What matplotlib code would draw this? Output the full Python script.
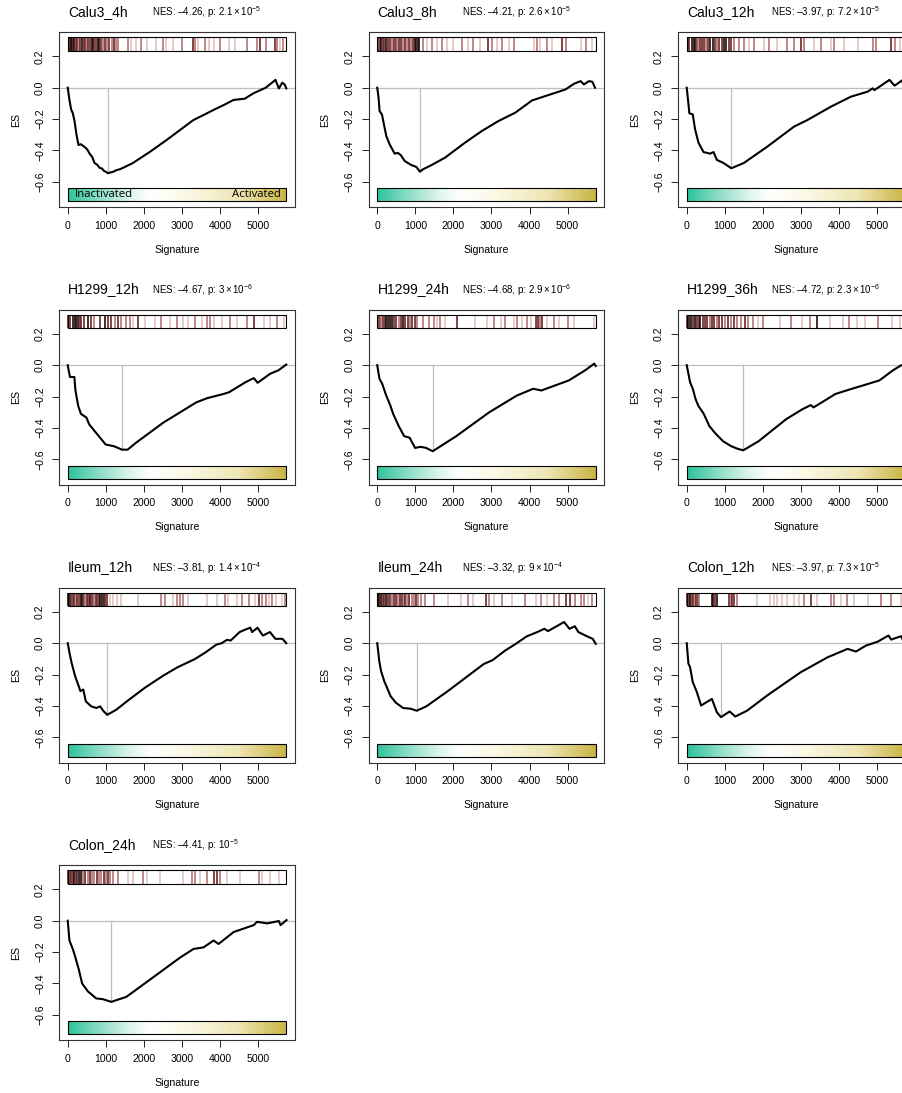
import numpy as np
import matplotlib
matplotlib.use("Agg")
import matplotlib.pyplot as plt
from matplotlib.colors import LinearSegmentedColormap
from matplotlib.patches import Rectangle

plt.rcParams['font.family'] = ['Liberation Sans', 'DejaVu Sans']
plt.rcParams['mathtext.fontset'] = 'custom'
plt.rcParams['mathtext.rm'] = 'Liberation Sans'
plt.rcParams['mathtext.it'] = 'Liberation Sans:italic'

N_GENES = 5740

names = ['Calu3_4h', 'Calu3_8h', 'Calu3_12h',
         'H1299_12h', 'H1299_24h', 'H1299_36h',
         'Ileum_12h', 'Ileum_24h', 'Colon_12h', 'Colon_24h']
nes = [-4.26, -4.21, -3.97, -4.67, -4.68, -4.72, -3.81, -3.32, -3.97, -4.41]
pvals = [2.1e-5, 2.6e-5, 7.2e-5, 3e-6, 2.9e-6, 2.3e-6, 1.4e-4, 9e-4, 7.3e-5, 1e-5]

# ---- running enrichment score curves (rank, ES) ----
x_calu3_4h = [0, 40, 90, 130, 177, 230, 283, 340, 400, 485, 530, 573, 640, 705, 770, 837, 900, 950, 1000, 1056, 1120, 1200, 1280, 1365, 1500, 1710, 2150, 2598, 3300, 3600, 3826, 4100, 4356, 4650, 4882, 5200, 5458, 5546, 5634, 5700, 5740]
y_calu3_4h = [0, -0.07, -0.14, -0.16, -0.21, -0.3, -0.365, -0.36, -0.37, -0.386, -0.4, -0.42, -0.44, -0.48, -0.49, -0.51, -0.515, -0.53, -0.535, -0.545, -0.54, -0.535, -0.525, -0.52, -0.505, -0.48, -0.41, -0.333, -0.206, -0.17, -0.142, -0.11, -0.078, -0.07, -0.035, 0.0, 0.05, -0.005, 0.032, 0.02, -0.004]

x_calu3_8h = [0, 35, 62, 123, 176, 238, 326, 458, 540, 616, 722, 810, 898, 1030, 1118, 1200, 1426, 1778, 2306, 2746, 3186, 3626, 4066, 4418, 4770, 4946, 5166, 5342, 5430, 5562, 5650, 5720]
y_calu3_8h = [0, -0.064, -0.149, -0.17, -0.234, -0.308, -0.361, -0.42, -0.415, -0.429, -0.467, -0.48, -0.493, -0.505, -0.535, -0.52, -0.493, -0.446, -0.35, -0.276, -0.212, -0.159, -0.081, -0.053, -0.025, -0.011, 0.025, 0.042, 0.021, 0.042, 0.038, 0.0]

x_calu3_12h = [0, 70, 158, 220, 308, 440, 616, 704, 792, 968, 1171, 1497, 2113, 2817, 3169, 3785, 4313, 4753, 4885, 4930, 5326, 5458, 5660, 5720]
y_calu3_12h = [0, -0.163, -0.17, -0.266, -0.35, -0.41, -0.42, -0.41, -0.46, -0.48, -0.513, -0.48, -0.376, -0.248, -0.206, -0.121, -0.057, -0.025, -0.004, -0.015, 0.05, 0.013, 0.047, -0.01]

x_h1299_12h = [0, 58, 174, 202, 274, 346, 490, 562, 707, 851, 995, 1211, 1428, 1572, 1788, 2509, 3374, 3662, 4095, 4239, 4671, 4887, 4988, 5320, 5536, 5740]
y_h1299_12h = [0, -0.075, -0.075, -0.16, -0.258, -0.31, -0.333, -0.376, -0.42, -0.462, -0.505, -0.516, -0.538, -0.538, -0.495, -0.366, -0.237, -0.21, -0.183, -0.172, -0.108, -0.082, -0.112, -0.054, -0.032, 0.004]

x_h1299_24h = [0, 58, 130, 231, 346, 418, 562, 707, 851, 995, 1139, 1284, 1457, 2076, 2941, 3662, 4095, 4311, 4671, 5032, 5464, 5700, 5740]
y_h1299_24h = [0, -0.086, -0.118, -0.19, -0.258, -0.31, -0.387, -0.452, -0.462, -0.527, -0.52, -0.527, -0.548, -0.452, -0.30, -0.194, -0.15, -0.161, -0.129, -0.097, -0.032, 0.01, -0.005]

x_h1299_36h = [0, 87, 159, 231, 303, 447, 592, 736, 952, 1168, 1341, 1485, 1889, 2610, 3042, 3258, 3330, 3907, 4340, 4628, 5060, 5420, 5636, 5740]
y_h1299_36h = [0, -0.108, -0.15, -0.215, -0.258, -0.31, -0.387, -0.43, -0.484, -0.516, -0.533, -0.542, -0.484, -0.344, -0.28, -0.254, -0.269, -0.183, -0.15, -0.129, -0.097, -0.032, 0.0, -0.006]

x_ileum_12h = [0, 52, 99, 193, 287, 333, 409, 474, 615, 756, 850, 944, 1038, 1273, 1555, 2024, 2494, 2869, 3339, 3621, 3903, 4044, 4185, 4279, 4514, 4655, 4796, 4843, 4984, 5124, 5312, 5453, 5641, 5740]
y_ileum_12h = [0, -0.069, -0.123, -0.209, -0.273, -0.305, -0.295, -0.37, -0.402, -0.413, -0.402, -0.434, -0.456, -0.424, -0.37, -0.284, -0.209, -0.155, -0.101, -0.058, -0.009, 0.0, 0.022, 0.017, 0.071, 0.086, 0.099, 0.071, 0.099, 0.049, 0.071, 0.028, 0.028, 0.0]

x_ileum_24h = [0, 52, 99, 183, 258, 352, 493, 681, 869, 1038, 1291, 1855, 2325, 2794, 3029, 3358, 3640, 3922, 4203, 4391, 4485, 4908, 5049, 5190, 5284, 5519, 5659, 5740]
y_ileum_24h = [0, -0.112, -0.176, -0.241, -0.284, -0.338, -0.38, -0.413, -0.417, -0.43, -0.402, -0.305, -0.219, -0.133, -0.108, -0.047, -0.004, 0.043, 0.071, 0.092, 0.077, 0.135, 0.092, 0.108, 0.071, 0.043, 0.028, -0.004]

x_colon_12h = [0, 44, 88, 158, 264, 308, 378, 660, 792, 898, 1127, 1276, 1584, 2113, 2993, 3697, 4225, 4445, 4709, 5017, 5299, 5370, 5634, 5720]
y_colon_12h = [0, -0.13, -0.153, -0.248, -0.31, -0.344, -0.397, -0.355, -0.44, -0.471, -0.435, -0.467, -0.43, -0.333, -0.185, -0.09, -0.036, -0.053, -0.015, 0.01, 0.049, 0.023, 0.045, -0.004]

x_colon_24h = [0, 44, 132, 202, 290, 378, 528, 748, 924, 1144, 1540, 2157, 2950, 3302, 3566, 3830, 3962, 4358, 4886, 4974, 5238, 5546, 5590, 5748]
y_colon_24h = [0, -0.126, -0.18, -0.235, -0.31, -0.40, -0.45, -0.495, -0.50, -0.517, -0.485, -0.376, -0.235, -0.18, -0.17, -0.126, -0.148, -0.072, -0.028, -0.007, -0.017, -0.002, -0.028, 0.004]

# ---- gene-set hit positions and shade level (0 light .. 3 black) ----
hits_calu3_4h = [20, 50, 80, 110, 140, 170, 210, 250, 290, 330, 380, 420, 460, 500, 540, 590, 640, 670, 700, 750, 800, 830, 870, 920, 970, 1030, 1090, 1150, 1210, 1260,
                 1320, 1580, 1670, 1800, 1930, 2070, 2330, 2500, 2590, 2770, 2990, 3290, 3330, 3430, 3610, 3700, 3830, 4010, 4230, 4400, 4700, 4975, 5060, 5220, 5450, 5500, 5570, 5660]
shade_calu3_4h = [2, 2, 3, 3, 2, 3, 2, 2, 1, 2, 3, 2, 2, 1, 2, 2, 3, 3, 2, 2, 3, 3, 2, 1, 2, 1, 2, 1, 2, 1,
                  1, 1, 0, 0, 1, 0, 0, 1, 0, 0, 1, 2, 1, 0, 1, 0, 0, 1, 0, 0, 1, 1, 2, 1, 2, 1, 0, 1]

hits_calu3_8h = [20, 60, 100, 140, 180, 230, 280, 330, 380, 430, 480, 530, 580, 630, 680, 730, 780, 830, 880, 930, 985, 1030, 1070, 1110,
                 1205, 1294, 1426, 1558, 1690, 1822, 1998, 2218, 2394, 2526, 2702, 2922, 3010, 3142, 3274, 3450, 3582, 4110, 4198, 4286, 4462, 4594, 4858, 4946, 5342, 5474, 5650]
shade_calu3_8h = [2, 2, 3, 2, 2, 3, 2, 2, 1, 2, 2, 1, 2, 2, 1, 2, 1, 2, 1, 2, 3, 3, 3, 3,
                  1, 0, 1, 0, 1, 0, 0, 1, 0, 1, 0, 2, 1, 0, 1, 0, 1, 0, 1, 0, 1, 0, 2, 1, 0, 1, 0]

hits_calu3_12h = [20, 70, 130, 180, 220, 260, 300, 350, 400, 450, 500, 560, 620, 680, 740, 800, 860, 920, 980, 1040, 1100, 1160, 1230,
                  1360, 1500, 1630, 1760, 2020, 2160, 2380, 2640, 2820, 2990, 3080, 3340, 3520, 3780, 3870, 4130, 4490, 4880, 4970, 5370, 5460, 5590, 5680]
shade_calu3_12h = [2, 2, 3, 3, 3, 2, 1, 2, 2, 2, 1, 2, 3, 3, 2, 1, 2, 2, 3, 3, 2, 2, 1,
                   1, 1, 0, 1, 0, 1, 0, 1, 1, 2, 1, 0, 1, 0, 1, 0, 0, 1, 1, 2, 1, 0, 1]

hits_h1299_12h = [10, 60, 130, 180, 230, 280, 310, 350, 440, 530, 615, 700, 840, 970, 1060, 1140, 1230, 1320, 1410, 1540, 1630, 1710, 1850,
                  2020, 2290, 2460, 2680, 2860, 3030, 3170, 3340, 3520, 3650, 3740, 3830, 4050, 4270, 4450, 4710, 4880, 5150, 5320, 5500, 5670]
shade_h1299_12h = [2, 2, 3, 3, 3, 3, 2, 2, 2, 3, 2, 1, 2, 3, 2, 2, 1, 2, 1, 1, 1, 0, 2,
                   0, 0, 1, 0, 1, 0, 0, 1, 0, 1, 1, 0, 0, 1, 0, 1, 2, 0, 0, 1, 0]

hits_h1299_24h = [10, 60, 110, 160, 200, 240, 290, 330, 380, 440, 500, 560, 620, 680, 740, 800, 860, 920, 980, 1040,
                  1210, 1350, 1480, 1570, 1650, 1780, 2090, 2580, 2890, 3060, 3240, 3360, 3590, 3670, 3800, 3940, 4030, 4160, 4220, 4280, 4330, 4470, 4650, 4770, 5000, 5170, 5700]
shade_h1299_24h = [2, 2, 1, 2, 2, 3, 3, 3, 3, 2, 2, 1, 2, 3, 2, 2, 1, 2, 2, 1,
                   1, 1, 1, 0, 1, 0, 2, 0, 0, 1, 0, 1, 0, 1, 0, 1, 0, 2, 2, 1, 2, 0, 1, 0, 1, 0, 0]

hits_h1299_36h = [10, 60, 110, 160, 210, 260, 310, 360, 420, 480, 540, 600, 660, 720, 790, 860, 930, 1000, 1080, 1160, 1240, 1330, 1420, 1520, 1620, 1740, 1880, 2000,
                  2460, 2750, 3030, 3250, 3430, 3750, 4100, 4250, 4460, 4680, 5030, 5390, 5600]
shade_h1299_36h = [2, 3, 3, 2, 3, 2, 2, 3, 2, 2, 2, 1, 2, 2, 1, 2, 2, 1, 2, 1, 2, 1, 1, 2, 1, 1, 0, 1,
                   0, 1, 0, 1, 3, 0, 0, 1, 0, 0, 1, 0, 0]

hits_ileum_12h = [10, 50, 90, 130, 170, 210, 250, 300, 340, 380, 420, 460, 500, 540, 580, 620, 660, 700, 740, 780, 820, 860, 900, 940, 990, 1030,
                  1100, 1200, 1300, 1400, 1850, 2460, 2550, 2770, 2860, 2950, 3030, 3170, 3650, 3920, 4140, 4220, 4450, 4580, 4750, 4930, 5020, 5110, 5200, 5280, 5370, 5460, 5630, 5720]
shade_ileum_12h = [3, 3, 2, 2, 2, 1, 2, 2, 3, 3, 2, 1, 2, 2, 3, 2, 2, 1, 2, 2, 2, 3, 3, 3, 2, 2,
                   0, 0, 0, 0, 0, 1, 1, 0, 1, 1, 1, 0, 0, 0, 1, 0, 0, 1, 1, 0, 2, 1, 1, 0, 1, 0, 0, 1]

hits_ileum_24h = [10, 50, 90, 140, 190, 240, 290, 340, 390, 440, 490, 540, 590, 640, 690, 740, 790, 840, 900, 960, 1020, 1080, 1150, 1245,
                  1480, 1860, 2190, 2380, 2520, 2850, 2940, 3080, 3270, 3550, 3880, 4170, 4310, 4450, 4640, 4780, 4970, 5060, 5200, 5350, 5440, 5540, 5630]
shade_ileum_24h = [3, 3, 3, 2, 2, 3, 2, 2, 1, 2, 2, 1, 2, 2, 1, 2, 1, 2, 1, 1, 2, 1, 1, 1,
                   1, 0, 0, 1, 0, 2, 1, 0, 1, 0, 1, 0, 1, 0, 1, 1, 2, 2, 1, 1, 1, 0, 1]

hits_colon_12h = [10, 50, 90, 130, 170, 210, 250, 290, 330, 660, 700, 740, 790, 1100, 1150, 1190, 1230, 1320,
                  1850, 2200, 2290, 2380, 2500, 2640, 2820, 2950, 3080, 3260, 3430, 3780, 3870, 4050, 4220, 4400, 4750, 5100, 5370, 5630]
shade_colon_12h = [2, 2, 3, 2, 2, 1, 2, 2, 1, 3, 3, 2, 3, 2, 1, 2, 2, 1,
                   0, 0, 0, 0, 0, 0, 0, 0, 1, 2, 0, 1, 1, 0, 1, 0, 0, 1, 1, 0]

hits_colon_24h = [10, 50, 90, 130, 170, 210, 250, 300, 350, 400, 460, 520, 580, 640, 700, 760, 820, 880, 940, 1000, 1060, 1120, 1190,
                  1320, 1580, 1720, 1980, 2070, 2420, 3040, 3260, 3340, 3480, 3650, 3830, 3920, 4010, 4180, 4530, 5020, 5100, 5320, 5540]
shade_colon_24h = [2, 2, 2, 2, 3, 2, 2, 3, 3, 1, 2, 1, 2, 1, 1, 2, 1, 1, 2, 1, 2, 1, 1,
                   1, 0, 0, 1, 0, 0, 0, 1, 1, 0, 1, 2, 2, 1, 0, 0, 1, 0, 0, 0]

curves_x = [x_calu3_4h, x_calu3_8h, x_calu3_12h, x_h1299_12h, x_h1299_24h, x_h1299_36h,
            x_ileum_12h, x_ileum_24h, x_colon_12h, x_colon_24h]
curves_y = [y_calu3_4h, y_calu3_8h, y_calu3_12h, y_h1299_12h, y_h1299_24h, y_h1299_36h,
            y_ileum_12h, y_ileum_24h, y_colon_12h, y_colon_24h]
hits_all = [hits_calu3_4h, hits_calu3_8h, hits_calu3_12h, hits_h1299_12h, hits_h1299_24h, hits_h1299_36h,
            hits_ileum_12h, hits_ileum_24h, hits_colon_12h, hits_colon_24h]
shades_all = [shade_calu3_4h, shade_calu3_8h, shade_calu3_12h, shade_h1299_12h, shade_h1299_24h, shade_h1299_36h,
              shade_ileum_12h, shade_ileum_24h, shade_colon_12h, shade_colon_24h]

shade_colors = ['#E3C2C2', '#B57474', '#6A2626', '#1E0A0A']
bar_cmap = LinearSegmentedColormap.from_list(
    'ia', [(0.0, '#2EC29C'), (0.12, '#7ED9C0'), (0.28, '#DDF4EC'), (0.38, '#FFFFFF'),
           (0.55, '#FBF8E4'), (0.78, '#EEE6B4'), (1.0, '#C9B443')])

W, H = 903, 1093
fig = plt.figure(figsize=(W / 100, H / 100), dpi=100)
col_left = [59, 368.5, 678]
row_top = [32, 309.5, 587.5, 865]
AW, AH = 236, 175


def fmt_tick(v):
    s = '%.1f' % abs(v)
    return ('\u2212' + s) if v < -1e-9 else s


for i, name in enumerate(names):
    r, c = divmod(i, 3)
    L, T = col_left[c], row_top[r]
    ax = fig.add_axes([L / W, 1 - (T + AH) / H, AW / W, AH / H])
    N = N_GENES
    ax.set_xlim(-0.04 * N, 1.04 * N)
    ax.set_ylim(-0.76, 0.355)

    xs = np.array(curves_x[i], dtype=float)
    ys = np.array(curves_y[i], dtype=float)
    kmin = int(np.argmin(ys))

    ax.axhline(0, color='#BEBEBE', lw=0.9, zorder=1)
    ax.plot([xs[kmin], xs[kmin]], [0, ys[kmin]], color='#BEBEBE', lw=0.9, zorder=1)
    ax.plot(xs, ys, color='black', lw=1.5, zorder=3, solid_joinstyle='round')

    # rug of hits
    cols = [shade_colors[s] for s in shades_all[i]]
    ax.vlines(hits_all[i], 0.236, 0.32, colors=cols, lw=1.2, zorder=2)
    ax.add_patch(Rectangle((0, 0.236), N, 0.084, fill=False, ec='black', lw=0.8, zorder=4))

    # activation color bar
    grad = np.linspace(0, 1, 256).reshape(1, -1)
    ax.imshow(grad, extent=(0, N, -0.722, -0.641), aspect='auto', cmap=bar_cmap,
              origin='lower', zorder=2, interpolation='bilinear')
    ax.add_patch(Rectangle((0, -0.722), N, 0.081, fill=False, ec='black', lw=0.8, zorder=4))
    if i == 0:
        ax.text(190, -0.682, 'Inactivated', fontsize=8.2, ha='left', va='center',
                family=['Open Sans', 'DejaVu Sans'], zorder=5)
        ax.text(N - 150, -0.682, 'Activated', fontsize=8.2, ha='right', va='center',
                family=['Open Sans', 'DejaVu Sans'], zorder=5)

    ax.set_xticks([0, 1000, 2000, 3000, 4000, 5000])
    ax.set_xticklabels(['0', '1000', '2000', '3000', '4000', '5000'])
    yt = [-0.6, -0.4, -0.2, 0.0, 0.2]
    ax.set_yticks(yt)
    ax.set_yticklabels([fmt_tick(v) for v in yt], rotation=90, va='center')
    ax.tick_params(direction='out', length=5, width=0.7, labelsize=7.6, pad=5, color='#222222')
    for sp in ax.spines.values():
        sp.set_linewidth(0.8)
        sp.set_color('#333333')

    ax.text(0.5, -43 / AH, 'Signature', transform=ax.transAxes, ha='center', va='center', fontsize=7.6)
    ax.text(-43 / AW, 0.5, 'ES', transform=ax.transAxes, ha='center', va='center', rotation=90, fontsize=7.6)

    # titles
    fig.text((L + 9) / W, 1 - (T - 16) / H, name, fontsize=10, ha='left', va='baseline')
    p = pvals[i]
    mant, ex = ('%.1e' % p).split('e')
    ex = int(ex)
    if mant.endswith('.0'):
        mant = mant[:-2]
    if mant == '1':
        ptxt = r'$\mathregular{10^{%d}}$' % ex
    else:
        ptxt = r'$\mathregular{%s\times10^{%d}}$' % (mant, ex)
    ptxt = ptxt.replace('-', '\u2212')
    nes_txt = 'NES: \u2013%.2f, p: ' % abs(nes[i]) + ptxt
    fig.text((L + 93) / W, 1 - (T - 16) / H, nes_txt, fontsize=7, ha='left', va='baseline')

fig.savefig('out.png', dpi=100)
